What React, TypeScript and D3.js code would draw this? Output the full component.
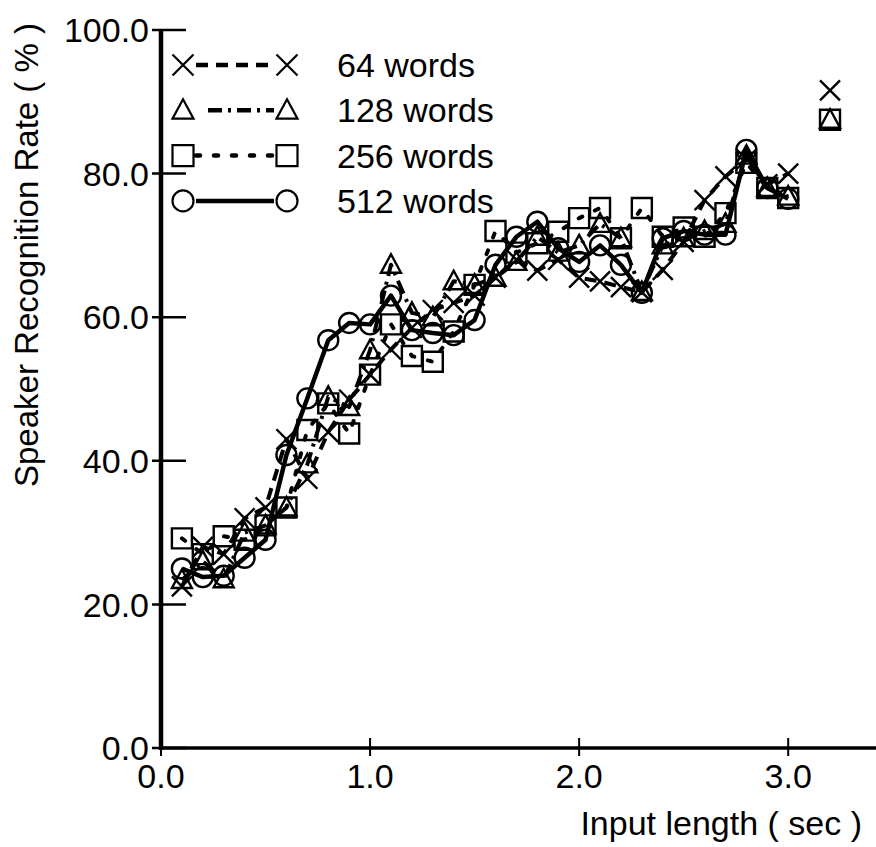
import React from "react";
import * as d3 from "d3";

// Input length (sec) for each measured point
const inputLength = [
  0.1, 0.2, 0.3, 0.4, 0.5, 0.6, 0.7, 0.8, 0.9, 1.0,
  1.1, 1.2, 1.3, 1.4, 1.5, 1.6, 1.7, 1.8, 1.9, 2.0,
  2.1, 2.2, 2.3, 2.4, 2.5, 2.6, 2.7, 2.8, 2.9, 3.0,
];

// Speaker recognition rate (%) per vocabulary size
const rate64 = [
  22.5, 28.0, 27.0, 32.0, 33.5, 43.0, 37.5, 44.0, 48.5, 52.0,
  55.5, 58.5, 61.0, 62.0, 63.0, 65.5, 68.0, 66.5, 68.0, 65.5,
  65.0, 64.2, 63.5, 66.6, 70.5, 76.3, 79.6, 82.0, 78.5, 80.0,
];
const rate128 = [
  23.4, 26.0, 23.5, 30.0, 31.0, 33.5, 39.5, 48.9, 47.5, 55.4,
  67.3, 60.6, 60.0, 65.0, 64.5, 65.5, 67.7, 71.2, 69.0, 70.0,
  73.0, 71.0, 63.5, 70.0, 71.0, 72.0, 73.0, 82.5, 78.0, 76.8,
];
const rate256 = [
  29.2, 27.0, 29.5, 29.0, 31.0, 33.5, 44.3, 48.0, 43.8, 52.0,
  59.0, 54.6, 53.8, 58.0, 64.5, 72.0, 69.0, 70.3, 71.9, 73.8,
  75.2, 71.0, 75.2, 71.2, 72.5, 71.2, 74.5, 81.5, 78.0, 76.6,
];
const rate512 = [
  25.0, 23.8, 24.0, 26.5, 29.0, 40.8, 48.7, 56.8, 59.2, 59.0,
  63.0, 58.2, 57.8, 57.5, 59.6, 67.3, 71.2, 73.3, 69.6, 67.7,
  70.0, 67.3, 63.4, 71.0, 72.0, 71.5, 71.5, 83.3, 78.0, 76.5,
];

// Unconnected results at the longest input
const extraLength = 3.2;
const extraRates = [91.6, 87.5, 87.5, null];

const seriesNames = ["64 words", "128 words", "256 words", "512 words"];
const xTicks = [0, 1, 2, 3];
const yTicks = [0, 20, 40, 60, 80, 100];

const W = 876;
const H = 847;
const FONT = "'Liberation Sans', Arial, Helvetica, sans-serif";

const x = d3.scaleLinear().domain([0, 3.42]).range([161, 876]);
const y = d3.scaleLinear().domain([0, 100]).range([748, 30]);

// Hollow marker shapes as d3 symbol types (size = edge length squared)
const symTimes = {
  draw(ctx: any, size: number) {
    const r = Math.sqrt(size) / 2;
    ctx.moveTo(-r, -r);
    ctx.lineTo(r, r);
    ctx.moveTo(r, -r);
    ctx.lineTo(-r, r);
  },
};
const symTriangle = {
  draw(ctx: any, size: number) {
    const r = Math.sqrt(size) / 2;
    ctx.moveTo(0, -r * 1.05);
    ctx.lineTo(r, r * 0.8);
    ctx.lineTo(-r, r * 0.8);
    ctx.closePath();
  },
};
const symSquare = {
  draw(ctx: any, size: number) {
    const r = Math.sqrt(size) / 2;
    ctx.rect(-r, -r, 2 * r, 2 * r);
  },
};
const symCircle = {
  draw(ctx: any, size: number) {
    const r = Math.sqrt(size) / 2;
    ctx.moveTo(r, 0);
    ctx.arc(0, 0, r, 0, 2 * Math.PI);
  },
};

const markerTypes = [symTimes, symTriangle, symSquare, symCircle];
const dashes = ["12,8", "14,6,3,6", "4,14", null];
const allRates = [rate64, rate128, rate256, rate512];

const line = d3
  .line<[number, number]>()
  .x((d) => x(d[0]))
  .y((d) => y(d[1]));

const fmt = d3.format(".1f");

export default function App() {
  const plotMarker = d3.symbol().size(20 * 20);
  const legendMarker = d3.symbol().size(21 * 21);

  return (
    <svg
      width={W}
      height={H}
      style={{ position: "absolute", left: 0, top: 0, background: "#fff" }}
      fontFamily={FONT}
    >
      <rect width={W} height={H} fill="#fff" />

      {/* data lines */}
      {allRates.map((vals, i) => (
        <path
          key={"l" + i}
          d={line(inputLength.map((t, j) => [t, vals[j]]) as [number, number][]) || ""}
          fill="none"
          stroke="#000"
          strokeWidth={i === 3 ? 4.5 : 4}
          strokeDasharray={dashes[i] || undefined}
          strokeLinecap={i === 2 ? "round" : "butt"}
          strokeLinejoin="round"
        />
      ))}

      {/* markers */}
      {allRates.map((vals, i) => (
        <g key={"m" + i} fill="none" stroke="#000" strokeWidth={2.4}>
          {vals.map((v, j) => (
            <path
              key={j}
              transform={`translate(${x(inputLength[j])},${y(v)})`}
              d={plotMarker.type(markerTypes[i] as any)() || ""}
            />
          ))}
          {extraRates[i] != null && (
            <path
              transform={`translate(${x(extraLength)},${y(extraRates[i] as number)})`}
              d={plotMarker.type(markerTypes[i] as any)() || ""}
            />
          )}
        </g>
      ))}

      {/* axes */}
      <line x1={x(0)} x2={x(0)} y1={y(100)} y2={y(0) + 2} stroke="#000" strokeWidth={4.5} />
      <line x1={x(0) - 2} x2={876} y1={y(0)} y2={y(0)} stroke="#000" strokeWidth={3.5} />

      {yTicks.map((t) => (
        <g key={"yt" + t}>
          <line x1={x(0) - 9} x2={x(0) + 25} y1={y(t)} y2={y(t)} stroke="#000" strokeWidth={2.5} />
          <text
            x={149}
            y={y(t)}
            dy="0.36em"
            textAnchor="end"
            fontSize={34}
            fill="#000"
          >
            {fmt(t)}
          </text>
        </g>
      ))}
      {xTicks.map((t) => (
        <g key={"xt" + t}>
          <line x1={x(t)} x2={x(t)} y1={y(0) - 10} y2={y(0) + 8} stroke="#000" strokeWidth={2} />
          <text x={x(t)} y={788} textAnchor="middle" fontSize={34} fill="#000">
            {fmt(t)}
          </text>
        </g>
      ))}

      <text x={862} y={835} textAnchor="end" fontSize={34} fill="#000">
        Input length ( sec )
      </text>
      <text
        transform="translate(38,255) rotate(-90)"
        textAnchor="middle"
        fontSize={33}
        fill="#000"
      >
        Speaker Recognition Rate ( % )
      </text>

      {/* legend */}
      {seriesNames.map((name, i) => {
        const cy = 65 + i * 45.3;
        return (
          <g key={"lg" + i}>
            <line
              x1={i === 1 ? 208 : 196}
              x2={274}
              y1={cy}
              y2={cy}
              stroke="#000"
              strokeWidth={4.5}
              strokeDasharray={dashes[i] || undefined}
              strokeLinecap={i === 2 ? "round" : "butt"}
            />
            <path
              transform={`translate(183,${cy})`}
              d={legendMarker.type(markerTypes[i] as any)() || ""}
              fill="none"
              stroke="#000"
              strokeWidth={2.2}
            />
            <path
              transform={`translate(287,${cy})`}
              d={legendMarker.type(markerTypes[i] as any)() || ""}
              fill="none"
              stroke="#000"
              strokeWidth={2.2}
            />
            <text x={337} y={cy + 12} fontSize={34} fill="#000">
              {name}
            </text>
          </g>
        );
      })}
    </svg>
  );
}
